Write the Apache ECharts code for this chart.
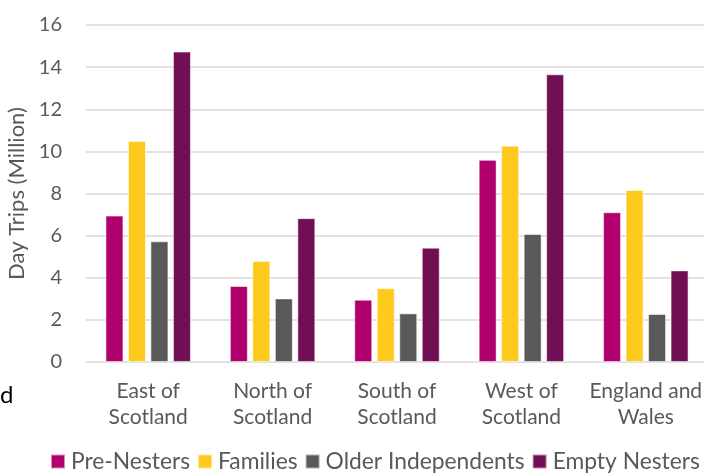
<!DOCTYPE html>
<html>
<head>
<meta charset="utf-8">
<script src="https://cdn.jsdelivr.net/npm/echarts@6/dist/echarts.min.js"></script>
<style>html,body{margin:0;padding:0;background:#fff}#c{width:704px;height:473px}</style>
</head>
<body>
<div id="c"></div>
<script>
const categories = ['East of\nScotland', 'North of\nScotland', 'South of\nScotland', 'West of\nScotland', 'England and\nWales'];
const preNesters = [6.95, 3.61, 2.96, 9.6, 7.11];
const families = [10.49, 4.8, 3.5, 10.27, 8.17];
const olderIndependents = [5.73, 3.02, 2.31, 6.08, 2.28];
const emptyNesters = [14.74, 6.83, 5.43, 13.66, 4.35];
const yTicks = { min: 0, max: 16, interval: 2 };

const FONT = 'Lato';
const TXT = '#595959';
const chart = echarts.init(document.getElementById('c'), null, { renderer: 'canvas' });
function s(name, data, color) {
  return {
    name, type: 'bar', data, barWidth: 18, barGap: '25%',
    itemStyle: { color, borderColor: 'rgba(255,255,255,0.55)', borderWidth: 1 }
  };
}
chart.setOption({
  animation: false,
  textStyle: { fontFamily: FONT },
  grid: { left: 86, right: -4, top: 25, bottom: 111, containLabel: false, outerBoundsMode: 'none' },
  xAxis: {
    type: 'category', data: categories,
    axisLine: { show: false }, axisTick: { show: false },
    axisLabel: { color: TXT, fontSize: 21, lineHeight: 26, margin: 16, fontFamily: FONT, interval: 0 }
  },
  yAxis: {
    type: 'value', min: yTicks.min, max: yTicks.max, interval: yTicks.interval,
    name: 'Day Trips (Million)', nameLocation: 'middle', nameGap: 53, nameRotate: 90,
    nameTextStyle: { color: TXT, fontSize: 22, fontFamily: FONT },
    axisLine: { show: false }, axisTick: { show: false },
    axisLabel: { color: TXT, fontSize: 20, margin: 24, fontFamily: FONT },
    splitLine: { lineStyle: { color: '#D9D9D9', width: 1.5 } }
  },
  legend: {
    left: 50, top: 450, width: 700, padding: 0, itemWidth: 14, itemHeight: 14, itemGap: 7, icon: 'rect',
    textStyle: { color: TXT, fontSize: 22.8, lineHeight: 22, fontFamily: FONT, padding: [0, 0, 0, 1] }
  },
  graphic: [{ type: 'text', left: 0, top: 383, style: { text: 'd', fontSize: 24, fill: '#000', fontFamily: FONT } }],
  series: [
    s('Pre-Nesters', preNesters, '#B0006E'),
    s('Families', families, '#FCC91C'),
    s('Older Independents', olderIndependents, '#595959'),
    s('Empty Nesters', emptyNesters, '#700F54')
  ]
});
</script>
</body>
</html>
